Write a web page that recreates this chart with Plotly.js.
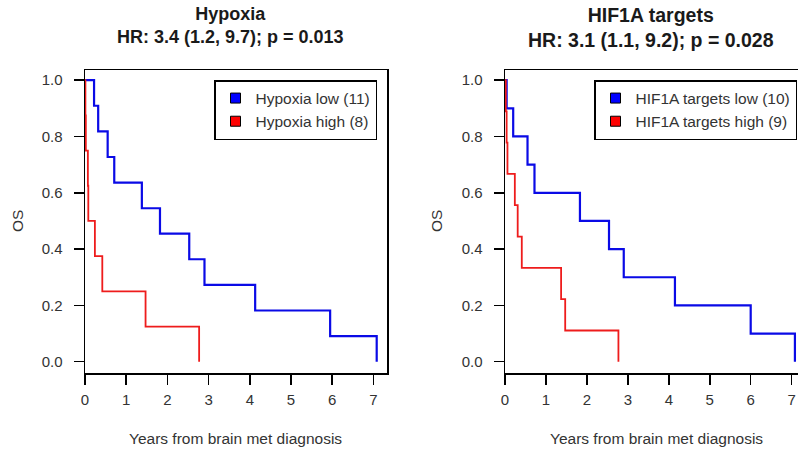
<!DOCTYPE html>
<html>
<head>
<meta charset="utf-8">
<script src="https://cdn.plot.ly/plotly-3.0.1.min.js"></script>
<style>
html,body{margin:0;padding:0;overflow:hidden;background:#fff;width:798px;height:450px;}
#chart{width:812px;height:450px;}
</style>
</head>
<body>
<div id="chart"></div>
<script>
// ---- Data ----
const panelTitles = ["Hypoxia", "HIF1A targets"];
const panelStats = ["HR: 3.4 (1.2, 9.7); p = 0.013", "HR: 3.1 (1.1, 9.2); p = 0.028"];
const legendLabels = [
  ["Hypoxia low (11)", "Hypoxia high (8)"],
  ["HIF1A targets low (10)", "HIF1A targets high (9)"]
];
const xTicks = [0, 1, 2, 3, 4, 5, 6, 7];
const yTicks = [0.0, 0.2, 0.4, 0.6, 0.8, 1.0];
const xLabel = "Years from brain met diagnosis";
const yLabel = "OS";

// Hypoxia panel
const hypLowTime  = [0, 0.22, 0.32, 0.55, 0.71, 1.38, 1.82, 2.53, 2.90, 4.13, 5.95, 7.08];
const hypLowSurv  = [1, 0.909, 0.818, 0.727, 0.636, 0.545, 0.455, 0.364, 0.273, 0.182, 0.091, 0];
const hypHighTime = [0, 0.01, 0.02, 0.07, 0.08, 0.24, 0.42, 1.47, 2.77];
const hypHighSurv = [1, 0.875, 0.75, 0.625, 0.5, 0.375, 0.25, 0.125, 0];

// HIF1A targets panel
const hifLowTime  = [0, 0.04, 0.20, 0.55, 0.72, 1.83, 2.54, 2.90, 4.15, 6.00, 7.08];
const hifLowSurv  = [1, 0.9, 0.8, 0.7, 0.6, 0.5, 0.4, 0.3, 0.2, 0.1, 0];
const hifHighTime = [0, 0.02, 0.04, 0.06, 0.24, 0.31, 0.41, 1.37, 1.47, 2.77];
const hifHighSurv = [1, 0.889, 0.778, 0.667, 0.556, 0.444, 0.333, 0.222, 0.111, 0];

// ---- Styling / layout ----
const W = 812, H = 450;
const FONT = "Liberation Sans, Arial, Helvetica, sans-serif";
const BLUE = "#0a0ae6", RED = "#ee1c1c";
const px = v => v / W, py = v => 1 - v / H;

const curve = (x, y, color, width, xa, ya) => ({
  type: "scatter", mode: "lines", x: x, y: y, line: {shape: "hv", color: color, width: width},
  xaxis: xa, yaxis: ya, showlegend: false, hoverinfo: "x+y"
});
const legendItem = (name, color, leg, xa, ya) => ({
  type: "scatter", mode: "markers", x: [null], y: [null], name: name,
  marker: {symbol: "square", size: 10, color: color, line: {color: "#000", width: 1}},
  xaxis: xa, yaxis: ya, legend: leg, showlegend: true
});

const traces = [
  curve(hypLowTime, hypLowSurv, BLUE, 2.2, "x", "y"),
  curve(hypHighTime, hypHighSurv, RED, 1.8, "x", "y"),
  curve(hifLowTime, hifLowSurv, BLUE, 2.2, "x2", "y2"),
  curve(hifHighTime, hifHighSurv, RED, 1.8, "x2", "y2"),
  legendItem(legendLabels[0][0], "#0000ff", "legend", "x", "y"),
  legendItem(legendLabels[0][1], "#ff0000", "legend", "x", "y"),
  legendItem(legendLabels[1][0], "#0000ff", "legend2", "x2", "y2"),
  legendItem(legendLabels[1][1], "#ff0000", "legend2", "x2", "y2")
];

const axisCommon = {
  showline: true, mirror: true, linecolor: "#000", linewidth: 1.5,
  showgrid: false, zeroline: false, ticks: "outside", ticklen: 10, tickwidth: 1.5, tickcolor: "#000",
  tickfont: {family: FONT, size: 15, color: "#333"}, fixedrange: true
};
const xAxis = (dom, range, anchor) => Object.assign({}, axisCommon, {
  domain: dom, range: range, anchor: anchor, tickvals: xTicks, ticktext: xTicks.map(String), ticklabelstandoff: 2
});
const yAxis = (dom, anchor) => Object.assign({}, axisCommon, {
  domain: dom, range: [-0.04, 1.036], anchor: anchor, tickvals: yTicks,
  ticktext: yTicks.map(v => v.toFixed(1)), ticklabelstandoff: 8
});
const yDom = [py(373), py(70)];

const legendCommon = {
  bordercolor: "#000", borderwidth: 1.5, bgcolor: "#fff",
  font: {family: FONT, size: 15.5, color: "#333"}, xanchor: "right", yanchor: "top",
  tracegroupgap: 0, itemclick: false, itemdoubleclick: false
};

const annotations = [
  {text: "<b>" + panelTitles[0] + "</b><br><b>" + panelStats[0] + "</b>", x: px(230), y: py(2),
   font: {family: FONT, size: 18, color: "#1a1a1a"}},
  {text: "<b>" + panelTitles[1] + "</b><br><b>" + panelStats[1] + "</b>", x: px(651), y: py(2),
   font: {family: FONT, size: 19.5, color: "#1a1a1a"}},
  {text: xLabel, x: px(235), y: py(438), yanchor: "middle", font: {family: FONT, size: 15.5, color: "#333"}},
  {text: xLabel, x: px(656), y: py(438), yanchor: "middle", font: {family: FONT, size: 15.5, color: "#333"}},
  {text: yLabel, x: px(18), y: py(221), textangle: -90, yanchor: "middle", font: {family: FONT, size: 15.5, color: "#333"}},
  {text: yLabel, x: px(437), y: py(221), textangle: -90, yanchor: "middle", font: {family: FONT, size: 15.5, color: "#333"}}
].map(a => Object.assign({xref: "paper", yref: "paper", showarrow: false, xanchor: "center", yanchor: "top"}, a));

const layout = {
  width: W, height: H, margin: {l: 0, r: 0, t: 0, b: 0},
  paper_bgcolor: "#fff", plot_bgcolor: "#fff",
  font: {family: FONT, color: "#333"},
  xaxis: xAxis([px(85), px(387)], [0, 7.33], "y"),
  yaxis: yAxis(yDom, "x"),
  xaxis2: xAxis([px(505), px(807)], [0, 7.375], "y2"),
  yaxis2: yAxis(yDom, "x2"),
  legend: Object.assign({}, legendCommon, {x: px(377), y: py(80)}),
  legend2: Object.assign({}, legendCommon, {x: px(797), y: py(80)}),
  annotations: annotations
};

Plotly.newPlot("chart", traces, layout, {displayModeBar: false, staticPlot: true});
</script>
</body>
</html>
